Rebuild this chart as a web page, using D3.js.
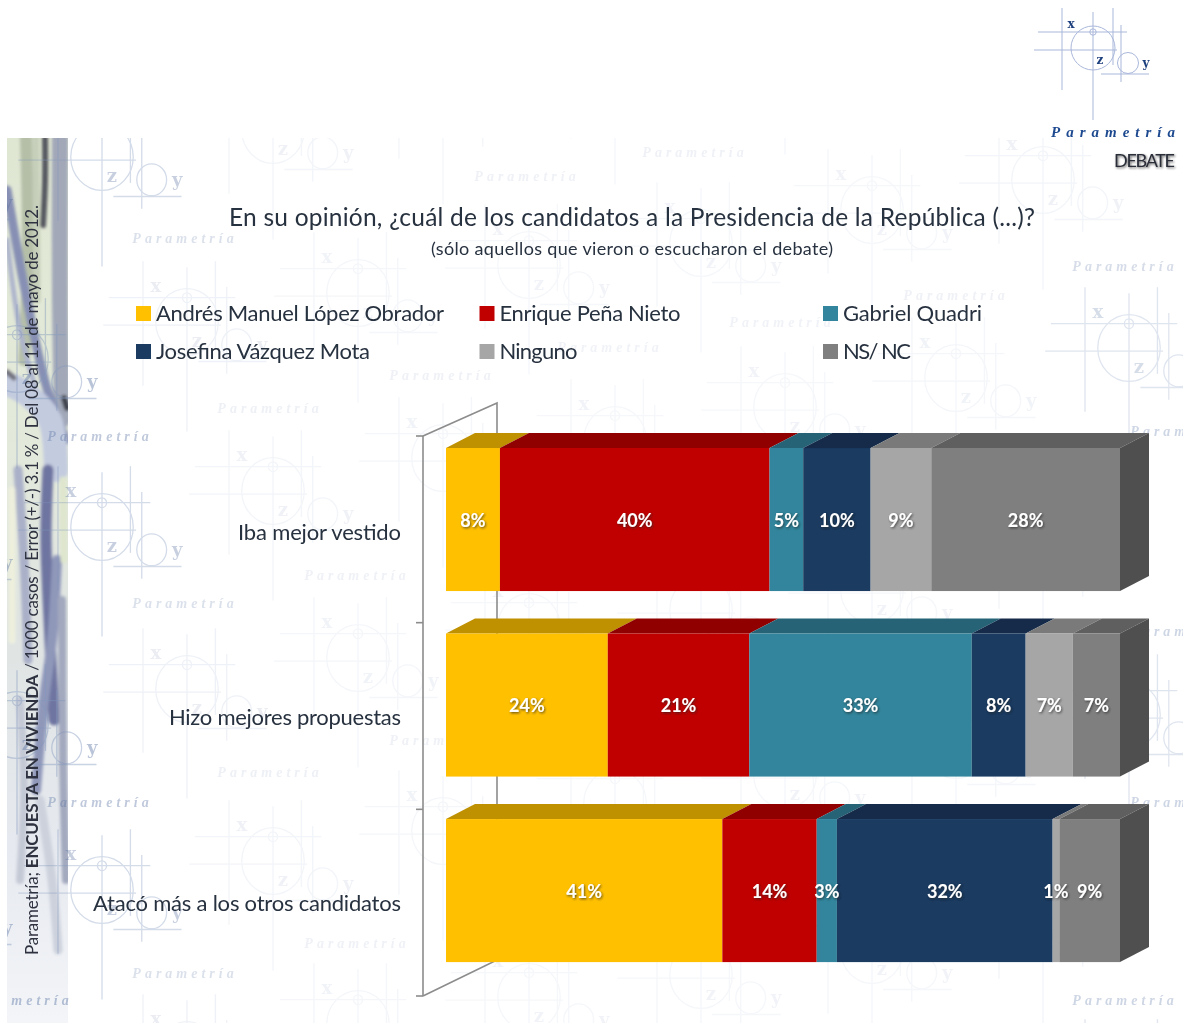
<!DOCTYPE html>
<html lang="es">
<head>
<meta charset="utf-8">
<title>Debate</title>
<script src="https://cdn.jsdelivr.net/npm/d3@7/dist/d3.min.js"></script>
<style>
html,body{margin:0;padding:0;background:#fff;}
svg{display:block;}
text{font-family:Lato,"Open Sans",sans-serif;}
</style>
</head>
<body>
<svg id="c" width="1183" height="1023"></svg>
<script>
const categories = ["Iba mejor vestido", "Hizo mejores propuestas", "Atacó más a los otros candidatos"];
const candidates = ["Andrés Manuel López Obrador", "Enrique Peña Nieto", "Gabriel Quadri", "Josefina Vázquez Mota", "Ninguno", "NS/ NC"];
const lopezObrador = [8, 24, 41];
const penaNieto = [40, 21, 14];
const quadri = [5, 33, 3];
const vazquezMota = [10, 8, 32];
const ninguno = [9, 7, 1];
const nsNc = [28, 7, 9];
const frontColors = ["#FFC000", "#C00000", "#31859C", "#1A3A60", "#A6A6A6", "#7F7F7F"];
const topColors = ["#BF9000", "#900000", "#276377", "#132B49", "#7A7A7A", "#5F5F5F"];
const titleText = "En su opinión, ¿cuál de los candidatos a la Presidencia de la República (...)?";
const subtitleText = "(sólo aquellos que vieron o escucharon el debate)";

const seriesValues = [lopezObrador, penaNieto, quadri, vazquezMota, ninguno, nsNc];
const svg = d3.select("#c");
const defs = svg.append("defs");
defs.append("filter").attr("id", "soft").attr("x", "-5%").attr("y", "-5%").attr("width", "110%").attr("height", "110%")
  .append("feGaussianBlur").attr("stdDeviation", 0.5);
defs.append("filter").attr("id", "paint").attr("x", "-10%").attr("y", "-10%").attr("width", "120%").attr("height", "120%")
  .append("feGaussianBlur").attr("stdDeviation", 1.5);
const shadow = defs.append("filter").attr("id", "shadow").attr("x", "-20%").attr("y", "-30%").attr("width", "150%").attr("height", "170%");
shadow.append("feDropShadow").attr("dx", 1).attr("dy", 1.2).attr("stdDeviation", 0.9).attr("flood-color", "#222").attr("flood-opacity", 0.7);
defs.append("clipPath").attr("id", "page").append("rect").attr("x", 7).attr("y", 138).attr("width", 1176).attr("height", 885);
defs.append("clipPath").attr("id", "stripClip").append("rect").attr("x", 7).attr("y", 138).attr("width", 61).attr("height", 885);
const stripGrad = defs.append("linearGradient").attr("id", "stripBase").attr("x1", 0).attr("x2", 0).attr("y1", 0).attr("y2", 1);
[[0, "#dfe6d2"], [0.3, "#e4ead9"], [0.55, "#dfe4e2"], [0.8, "#e6e9ef"], [1, "#f3f5f8"]]
  .forEach(([o, c]) => stripGrad.append("stop").attr("offset", o).attr("stop-color", c));

const root = svg.append("g").attr("filter", "url(#soft)");

/* ---------- painted side strip (decoration) ---------- */
const strip = root.append("g").attr("clip-path", "url(#stripClip)");
strip.append("rect").attr("x", 7).attr("y", 138).attr("width", 61).attr("height", 885).attr("fill", "url(#stripBase)");
const brush = strip.append("g").attr("filter", "url(#paint)").attr("fill", "none").attr("stroke-linecap", "round");
const strokes = [
  [[[26, 138], [28, 260], [24, 360]], "#b5bfa8", 12],
  [[[60, 138], [60, 300], [62, 420]], "#a2a8b8", 16],
  [[[36, 138], [37, 300]], "#c6cfba", 7],
  [[[45, 138], [45, 180], [43, 225]], "#55565f", 6],
  [[[7, 190], [25, 290], [46, 385], [66, 440]], "#8790b4", 9],
  [[[7, 240], [20, 330], [36, 390]], "#adb4cc", 5],
  [[[10, 385], [28, 395], [50, 420], [56, 470]], "#c3cbdf", 24],
  [[[7, 372], [14, 378]], "#70707a", 5],
  [[[64, 398], [67, 408]], "#3c3f48", 6],
  [[[48, 470], [46, 540], [50, 640], [54, 720]], "#6e75a0", 11],
  [[[57, 560], [52, 640], [44, 700], [36, 790]], "#9098ba", 10],
  [[[18, 470], [24, 560], [28, 660]], "#aab0c8", 9],
  [[[63, 480], [64, 560]], "#dfe6cd", 7],
  [[[12, 490], [12, 640]], "#eef0dd", 7],
  [[[62, 600], [63, 760], [66, 880]], "#a3a9be", 8],
  [[[20, 700], [24, 790], [20, 880]], "#c4c9d6", 8],
  [[[40, 800], [52, 880], [58, 950]], "#ccd1dc", 9]
];
const strokeLine = d3.line().curve(d3.curveCatmullRom);
strokes.forEach(([pts, col, w]) => brush.append("path").attr("d", strokeLine(pts)).attr("stroke", col).attr("stroke-width", w));

/* ---------- watermark ---------- */
function motif(g, cx, cy, sx, sy, stroke, ink) {
  const m = g.append("g").attr("transform", `translate(${cx},${cy})`).attr("fill", "none").attr("stroke", stroke).attr("stroke-width", sx > 1 ? 1.3 : 1);
  [[0, -36, 0, 72], [-31, -40, -31, 42], [20, -40, 20, 17], [28, -23, 28, 34]].forEach(d =>
    m.append("line").attr("x1", d[0] * sx).attr("y1", d[1] * sy).attr("x2", d[2] * sx).attr("y2", d[3] * sy));
  [[-55, -16, 34, -16], [-59, 2, 24, 2], [8, 26, 56, 26]].forEach(d =>
    m.append("line").attr("x1", d[0] * sx).attr("y1", d[1] * sy).attr("x2", d[2] * sx).attr("y2", d[3] * sy));
  m.append("ellipse").attr("rx", 22 * sx).attr("ry", 22 * sy);
  m.append("ellipse").attr("cx", 35 * sx).attr("cy", 15 * sy).attr("rx", 10.5 * sx).attr("ry", 10.5 * sy);
  m.append("ellipse").attr("cy", -16 * sy).attr("rx", 3.2 * sx).attr("ry", 3.2 * sy);
  [["x", -22, -24], ["z", 7, 12], ["y", 53, 15]].forEach(([t, dx, dy]) =>
    m.append("text").attr("x", dx * sx).attr("y", dy * sy).attr("dy", "0.35em").attr("text-anchor", "middle")
      .attr("stroke", "none").attr("fill", ink).style("font-family", "'DejaVu Serif',serif")
      .style("font-weight", "bold").style("font-size", (sx > 1 ? 18 : 12) + "px").text(t));
}
const wm = root.append("g").attr("clip-path", "url(#page)");
const wmCols = [
  [17, [-10, 359, 725, 1092], 0.42], [102, [157, 527, 890], 0.34], [187, [322, 689, 1055], 0.13],
  [273, [130, 491, 861], 0.1], [358, [293, 658, 1024], 0.09], [443, [95, 458, 831], 0.09],
  [529, [265, 627, 997], 0.08], [615, [75, 440, 803], 0.08], [701, [243, 610, 975], 0.08],
  [785, [45, 407, 775], 0.08], [872, [210, 590, 950], 0.08], [956, [378, 745], 0.09],
  [1043, [180, 545, 915], 0.1], [1129, [348, 715, 1080], 0.25], [-68, [180, 540, 905], 0.42]
];
wmCols.forEach(([cx, ys, op]) => {
  const g = wm.append("g").attr("opacity", op);
  ys.forEach(cy => motif(g, cx, cy, 1.42, 1.52, "#7f96bd", "#5b74a3"));
});
const wmWords = [
  [695, 152, .1], [527, 176, .1], [185, 238, .22], [1125, 266, .25], [956, 295, .1], [782, 322, .09],
  [610, 347, .09], [442, 375, .1], [270, 408, .11], [100, 436, .4], [1183, 431, .3], [185, 603, .22],
  [357, 575, .1], [1183, 631, .3], [270, 772, .11], [100, 802, .4], [1183, 802, .3],
  [442, 740, .1], [185, 973, .22], [357, 943, .1], [1125, 1000, .3], [20, 1000, .45]
];
wmWords.forEach(([x, y, op]) => wm.append("text").attr("x", x).attr("y", y).attr("dy", "0.35em")
  .attr("text-anchor", "middle").attr("opacity", op).attr("fill", "#5f78a6")
  .style("font-family", "'Liberation Serif',serif").style("font-style", "italic").style("font-weight", "bold")
  .style("font-size", "14px").style("letter-spacing", "4px").text("Parametría"));

/* ---------- logo ---------- */
motif(root.append("g"), 1093, 48, 1, 1, "#a9b7da", "#1f3f7d");
root.append("text").attr("x", 1116).attr("y", 132).attr("dy", "0.35em").attr("text-anchor", "middle")
  .attr("fill", "#1f4a8f").style("font-family", "'Liberation Serif',serif").style("font-style", "italic")
  .style("font-weight", "bold").style("font-size", "15px").style("letter-spacing", "6px").text("Parametría");
root.append("text").attr("x", 1114).attr("y", 161).attr("dy", "0.35em").attr("fill", "#2a2d38")
  .attr("filter", "url(#shadow)").style("font-size", "18px").attr("textLength", 61).text("DEBATE");

/* ---------- titles ---------- */
root.append("text").attr("x", 632).attr("y", 217).attr("dy", "0.35em").attr("text-anchor", "middle")
  .attr("fill", "#27313f").style("font-size", "24.5px").attr("textLength", 806).text(titleText);
root.append("text").attr("x", 632).attr("y", 249).attr("dy", "0.35em").attr("text-anchor", "middle")
  .attr("fill", "#27313f").style("font-size", "18px").attr("textLength", 402).text(subtitleText);

/* ---------- side note ---------- */
const note = root.append("text").attr("transform", "translate(38,955) rotate(-90)").attr("fill", "#2f3340")
  .style("font-size", "17px").attr("textLength", 750);
note.append("tspan").text("Parametría; ");
note.append("tspan").style("font-weight", "bold").text("ENCUESTA EN VIVIENDA");
note.append("tspan").text(" / 1000 casos / Error (+/-) 3.1 % / Del 08 al 11 de mayo de 2012.");

/* ---------- legend ---------- */
const legendCol = d3.scalePoint().domain([0, 1, 2]).range([136, 823]);
const legendRow = d3.scalePoint().domain([0, 1]).range([313.5, 351.5]);
const legendWidths = [288, 181, 139, 214, 78, 68];
const legend = root.append("g").selectAll("g").data(candidates).join("g")
  .attr("transform", (d, i) => `translate(${legendCol(i % 3)},${legendRow(Math.floor(i / 3))})`);
legend.append("rect").attr("y", -7.5).attr("width", 15).attr("height", 15).attr("fill", (d, i) => frontColors[i]);
legend.append("text").attr("x", 20).attr("dy", "0.35em").attr("fill", "#27313f").style("font-size", "22px")
  .attr("textLength", (d, i) => legendWidths[i]).text(d => d);

/* ---------- chart ---------- */
const x = d3.scaleLinear().domain([0, 100]).range([446, 1120]);
const band = d3.scaleBand().domain(categories).range([426.3, 426.3 + 557.5]).paddingInner(0.229).paddingOuter(0.117);
const tickY = d3.scaleLinear().domain([0, 3]).range([436, 996]);
const depthX = 29, depthY = 15;
const barH = band.bandwidth();
const barTop = c => band(c);

/* walls */
const wall = root.append("g").attr("fill", "none").attr("stroke", "#8c8c8c").attr("stroke-width", 1.6);
wall.append("path").attr("d", d3.line()([[423, tickY(0)], [423, tickY(3)]]));
wall.append("path").attr("d", d3.line()([[423, 436], [497, 403], [497, 960], [423, 996]]));
d3.range(0, categories.length + 1).forEach(i => {
  wall.append("line").attr("x1", 416).attr("x2", 423).attr("y1", tickY(i)).attr("y2", tickY(i));
});

/* category labels */
root.append("g").selectAll("text").data(categories).join("text")
  .attr("x", 401).attr("y", c => band(c) + barH / 2 + 12.5).attr("dy", "0.35em").attr("text-anchor", "end")
  .attr("fill", "#27313f").style("font-size", "22px")
  .attr("textLength", (c, i) => [163, 232, 308][i]).text(c => c);

/* stacked bars */
const rows = categories.map((c, r) => {
  let cum = 0;
  return seriesValues.map((s, k) => {
    const seg = { cat: c, k, v: s[r], x0: cum, x1: cum + s[r] };
    cum += s[r];
    return seg;
  });
});
const bars = root.append("g");
rows.forEach(row => {
  const c = row[0].cat, t = barTop(c);
  const g = bars.append("g");
  g.selectAll("path.top").data(row).join("path").attr("class", "top")
    .attr("d", s => d3.line()([[x(s.x0), t], [x(s.x0) + depthX, t - depthY], [x(s.x1) + depthX, t - depthY], [x(s.x1), t]]) + "Z")
    .attr("fill", s => topColors[s.k]);
  g.append("path")
    .attr("d", d3.line()([[x(100), t], [x(100) + depthX, t - depthY], [x(100) + depthX, t + barH - depthY], [x(100), t + barH]]) + "Z")
    .attr("fill", "#4F4F4F");
  g.selectAll("rect").data(row).join("rect")
    .attr("x", s => x(s.x0)).attr("y", t).attr("width", s => x(s.x1) - x(s.x0)).attr("height", barH)
    .attr("fill", s => frontColors[s.k]);
});
const labels = root.append("g").attr("filter", "url(#shadow)");
rows.forEach(row => {
  labels.append("g").selectAll("text").data(row).join("text")
    .attr("x", s => x((s.x0 + s.x1) / 2)).attr("y", s => barTop(s.cat) + barH / 2 + 1)
    .attr("dy", "0.35em").attr("text-anchor", "middle").attr("fill", "#fff")
    .style("font-size", "18px").style("font-weight", 700).text(s => s.v + "%");
});
</script>
</body>
</html>
